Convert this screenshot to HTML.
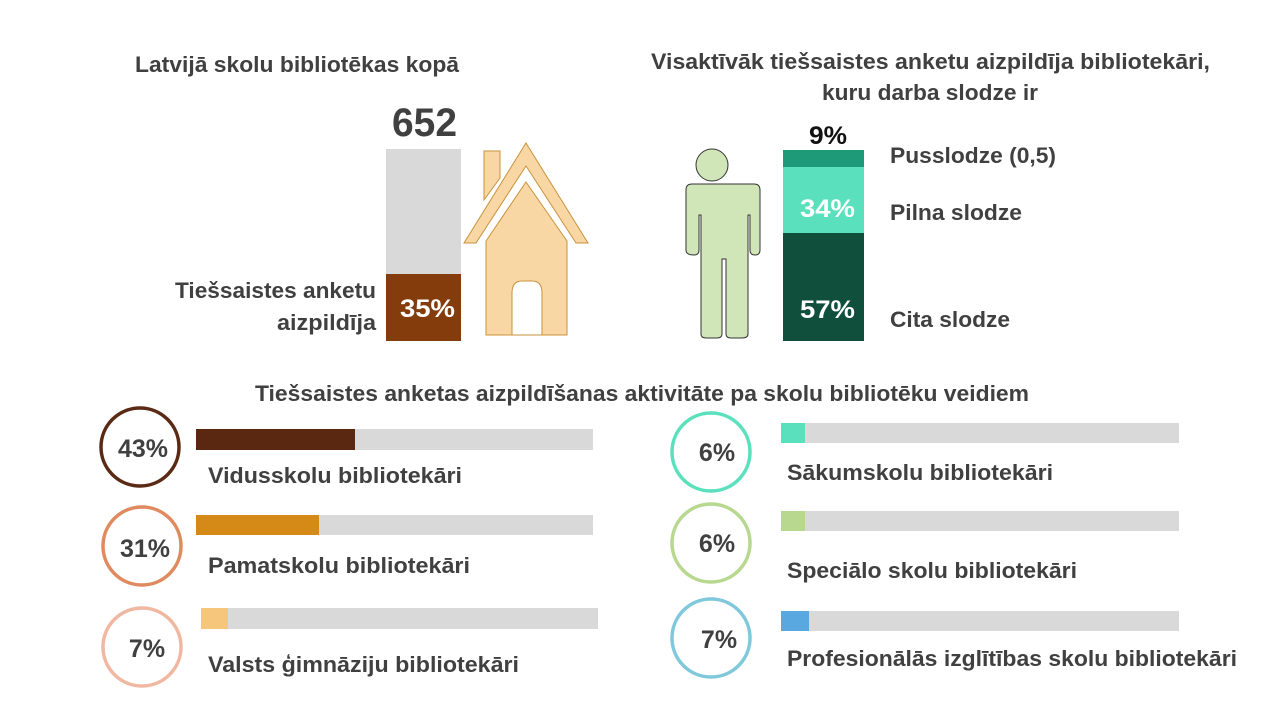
<!DOCTYPE html>
<html><head><meta charset="utf-8"><style>
body{margin:0;background:#fff;}
svg text{font-family:"Liberation Sans",sans-serif;font-weight:bold;fill:#404040;}
</style></head><body>
<svg width="1280" height="720" viewBox="0 0 1280 720" xmlns="http://www.w3.org/2000/svg">
<text x="135" y="72" font-size="22" textLength="324" lengthAdjust="spacingAndGlyphs">Latvijā skolu bibliotēkas kopā</text>
<text x="651" y="69" font-size="22" textLength="559" lengthAdjust="spacingAndGlyphs">Visaktīvāk tiešsaistes anketu aizpildīja bibliotekāri,</text>
<text x="822" y="100" font-size="22" textLength="216" lengthAdjust="spacingAndGlyphs">kuru darba slodze ir</text>
<text x="392" y="136" font-size="40" textLength="65" lengthAdjust="spacingAndGlyphs">652</text>
<rect x="386" y="149" width="75" height="125" fill="#d9d9d9"/>
<rect x="386" y="274" width="75" height="67" fill="#843c0c"/>
<text x="400" y="317" font-size="25" textLength="55" lengthAdjust="spacingAndGlyphs" style="fill:#fff">35%</text>
<text x="175" y="298" font-size="22" textLength="201" lengthAdjust="spacingAndGlyphs">Tiešsaistes anketu</text>
<text x="277" y="330" font-size="22" textLength="99" lengthAdjust="spacingAndGlyphs">aizpildīja</text>
<g fill="#f8d7a4" stroke="#c8923c" stroke-width="1">
<polygon points="484,151 500,151 500,178 484,200"/>
<polygon points="526,143 588,243 576,243 526,166 476,243 464,243"/>
<polygon points="526,182 567,241 567,335 486,335 486,241"/>
</g>
<path d="M512,335 V293 Q512,281 522,281 H532 Q542,281 542,293 V335 Z" fill="#fff" stroke="#c8923c"/>
<g fill="#d0e6b8" stroke="#333" stroke-width="1">
<circle cx="712" cy="165" r="16"/>
<path d="M692,184 H754 Q760,184 760,190 V250 Q760,255 755,255 Q750,255 750,250 V215 H748 V334 Q748,338 742,338 H731 Q726,338 726,334 V259 H722 V334 Q722,338 717,338 H706 Q701,338 701,334 V215 H699 V250 Q699,255 694,255 Q686,255 686,250 V190 Q686,184 692,184 Z"/>
</g>
<rect x="783" y="150" width="81" height="17" fill="#1f9a78"/>
<rect x="783" y="167" width="81" height="66" fill="#5ae0bc"/>
<rect x="783" y="233" width="81" height="108" fill="#0f4f3c"/>
<text x="809" y="144" font-size="25" textLength="38" lengthAdjust="spacingAndGlyphs" style="fill:#111">9%</text>
<text x="800" y="217" font-size="25" textLength="55" lengthAdjust="spacingAndGlyphs" style="fill:#fff">34%</text>
<text x="800" y="318" font-size="25" textLength="55" lengthAdjust="spacingAndGlyphs" style="fill:#fff">57%</text>
<text x="890" y="163" font-size="22" textLength="166" lengthAdjust="spacingAndGlyphs">Pusslodze (0,5)</text>
<text x="890" y="220" font-size="22" textLength="132" lengthAdjust="spacingAndGlyphs">Pilna slodze</text>
<text x="890" y="327" font-size="22" textLength="120" lengthAdjust="spacingAndGlyphs">Cita slodze</text>
<text x="255" y="401" font-size="22" textLength="774" lengthAdjust="spacingAndGlyphs">Tiešsaistes anketas aizpildīšanas aktivitāte pa skolu bibliotēku veidiem</text>
<g fill="none" stroke-width="3.5">
<circle cx="140" cy="447" r="39" stroke="#5a2a14"/>
<circle cx="142" cy="546" r="39" stroke="#e08a60"/>
<circle cx="142" cy="647" r="39" stroke="#f0b8a0"/>
<circle cx="711" cy="452" r="39" stroke="#5ae0bc"/>
<circle cx="711" cy="543" r="39" stroke="#b8d890"/>
<circle cx="711" cy="638" r="39" stroke="#80c8dc"/>
</g>
<g font-size="25" text-anchor="middle">
<text x="143" y="457">43%</text><text x="145" y="557">31%</text><text x="147" y="657">7%</text>
<text x="717" y="461">6%</text><text x="717" y="552">6%</text><text x="719" y="648">7%</text>
</g>
<rect x="196" y="429" width="397" height="21" fill="#d9d9d9"/><rect x="196" y="429" width="159" height="21" fill="#5a2810"/>
<rect x="196" y="515" width="397" height="20" fill="#d9d9d9"/><rect x="196" y="515" width="123" height="20" fill="#d58a18"/>
<rect x="201" y="608" width="397" height="21" fill="#d9d9d9"/><rect x="201" y="608" width="27" height="21" fill="#f6c67c"/>
<rect x="781" y="423" width="398" height="20" fill="#d9d9d9"/><rect x="781" y="423" width="24" height="20" fill="#5ae0bc"/>
<rect x="781" y="511" width="398" height="20" fill="#d9d9d9"/><rect x="781" y="511" width="24" height="20" fill="#b8d890"/>
<rect x="781" y="611" width="398" height="20" fill="#d9d9d9"/><rect x="781" y="611" width="28" height="20" fill="#5aa8e0"/>
<g font-size="22">
<text x="208" y="483" textLength="254" lengthAdjust="spacingAndGlyphs">Vidusskolu bibliotekāri</text>
<text x="208" y="573" textLength="262" lengthAdjust="spacingAndGlyphs">Pamatskolu bibliotekāri</text>
<text x="208" y="672" textLength="311" lengthAdjust="spacingAndGlyphs">Valsts ģimnāziju bibliotekāri</text>
<text x="787" y="480" textLength="266" lengthAdjust="spacingAndGlyphs">Sākumskolu bibliotekāri</text>
<text x="787" y="578" textLength="290" lengthAdjust="spacingAndGlyphs">Speciālo skolu bibliotekāri</text>
<text x="787" y="666" textLength="450" lengthAdjust="spacingAndGlyphs">Profesionālās izglītības skolu bibliotekāri</text>
</g>
</svg>
</body></html>
